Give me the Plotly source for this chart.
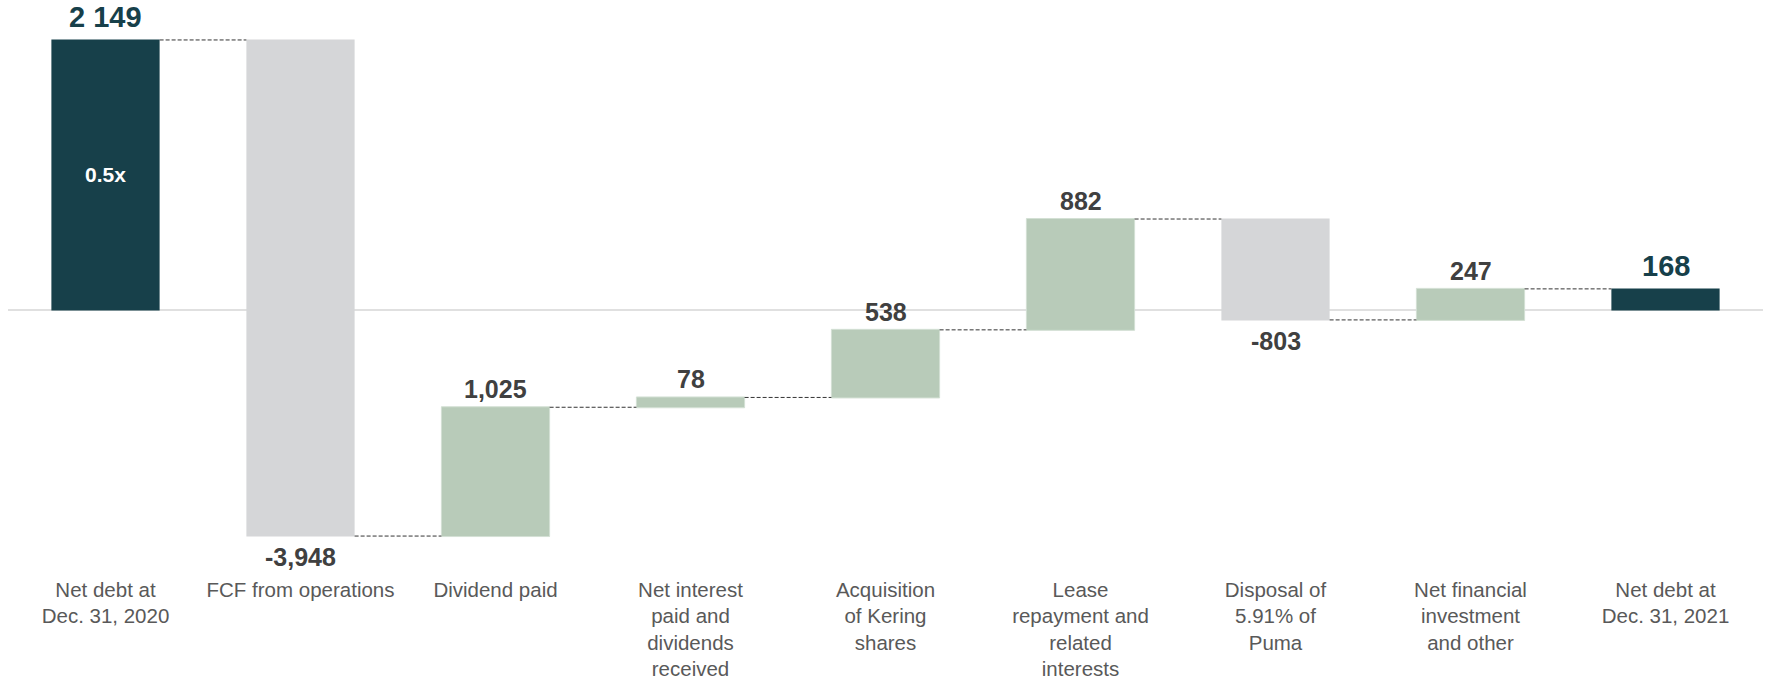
import numpy as np
import plotly.graph_objects as go

categories = ["Net debt at<br>Dec. 31, 2020", "FCF from operations", "Dividend paid",
              "Net interest<br>paid and<br>dividends<br>received",
              "Acquisition<br>of Kering<br>shares",
              "Lease<br>repayment and<br>related<br>interests",
              "Disposal of<br>5.91% of<br>Puma",
              "Net financial<br>investment<br>and other",
              "Net debt at<br>Dec. 31, 2021"]
values = [2149, -3948, 1025, 78, 538, 882, -803, 247, 168]
measures = ["absolute", "relative", "relative", "relative", "relative",
            "relative", "relative", "relative", "total"]
value_labels = ["2 149", "-3,948", "1,025", "78", "538", "882", "-803", "247", "168"]
ratio_label = "0.5x"

TEAL = "#17404A"
GRAY = "#D5D6D8"
GREEN = "#B8CBB9"
FONT = "Liberation Sans, Arial, sans-serif"

x = list(range(len(categories)))

fig = go.Figure(go.Waterfall(
    x=x,
    y=values,
    measure=measures,
    width=0.555,
    increasing=dict(marker=dict(color=GREEN, line=dict(color="#D3E0D4", width=1))),
    decreasing=dict(marker=dict(color=GRAY, line=dict(width=0))),
    totals=dict(marker=dict(color=TEAL, line=dict(width=0))),
    connector=dict(mode="between", line=dict(color="#333333", width=1, dash="4px,2px")),
    hoverinfo="skip",
))

# label positions derived from data
cum = np.cumsum(values[:-1]).tolist() + [values[-1]]
annotations = []
for i, (v, lab, m) in enumerate(zip(values, value_labels, measures)):
    end = cum[i]
    if m in ("absolute", "total"):
        annotations.append(dict(x=i, y=end, text=f"<b>{lab}</b>", showarrow=False,
                                yanchor="middle", yshift=23,
                                font=dict(family=FONT, size=29, color=TEAL)))
    elif v < 0:
        annotations.append(dict(x=i, y=end, text=f"<b>{lab}</b>", showarrow=False,
                                yanchor="middle", yshift=-21,
                                font=dict(family=FONT, size=25, color="#404040")))
    else:
        annotations.append(dict(x=i, y=end, text=f"<b>{lab}</b>", showarrow=False,
                                yanchor="middle", yshift=18,
                                font=dict(family=FONT, size=25, color="#404040")))

annotations.append(dict(x=0, y=values[0] / 2, text=f"<b>{ratio_label}</b>", showarrow=False,
                        yanchor="middle", font=dict(family=FONT, size=21, color="white")))

fig.update_layout(
    width=1767, height=681,
    margin=dict(l=8, r=4, t=0, b=106),
    paper_bgcolor="white", plot_bgcolor="white",
    showlegend=False,
    annotations=annotations,
    xaxis=dict(range=[-0.5, 8.5], tickmode="array", tickvals=x, ticktext=categories,
               showgrid=False, zeroline=False, showline=False, ticks="",
               tickfont=dict(family=FONT, size=20.5, color="#595959"), tickangle=0,
               fixedrange=True),
    yaxis=dict(range=[-2109, 2467], showgrid=False, showticklabels=False,
               zeroline=True, zerolinecolor="#E0E0E0", zerolinewidth=1.5,
               layer="below traces", fixedrange=True),
)

fig.write_html("out.html")
